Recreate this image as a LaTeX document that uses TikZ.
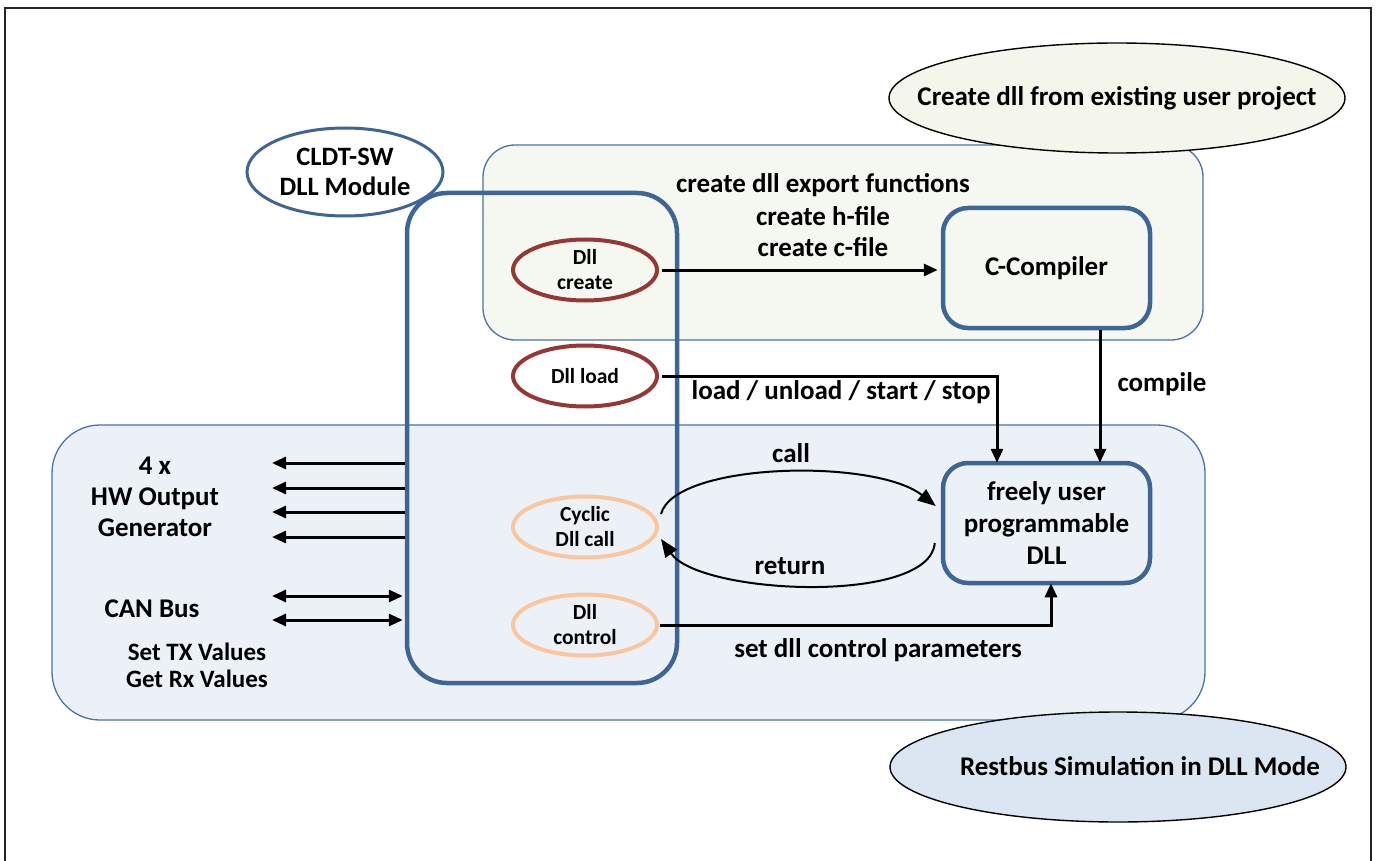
\documentclass[tikz,border=0pt]{standalone}
\usepackage{fontspec}
\setmainfont{Carlito}
\usetikzlibrary{arrows.meta,shapes.geometric,calc}
\definecolor{dblue}{HTML}{3E6596}
\definecolor{rblue}{HTML}{4A72A6}
\definecolor{gfill}{HTML}{F5F8F0}
\definecolor{bfill}{HTML}{ECF1F8}
\definecolor{efill}{HTML}{F4F6EC}
\definecolor{bell}{HTML}{DCE6F2}
\definecolor{dred}{HTML}{953735}
\definecolor{peach}{HTML}{FAC69E}
\begin{document}
\begin{tikzpicture}[x=1pt,y=-1pt,
  region/.style={draw=rblue, line width=1.3pt, rectangle, inner sep=0pt},
  lbl/.style={font=\fontsize{27}{31}\selectfont\bfseries, align=center, inner sep=0pt},
  smlbl/.style={font=\fontsize{25}{27}\selectfont\bfseries, align=center, inner sep=0pt},
  dllel/.style={ellipse, line width=4pt, fill=none, minimum width=144pt, minimum height=61pt, inner sep=0pt, align=center, font=\fontsize{21.5}{25}\selectfont\bfseries},
  boxnode/.style={draw=dblue, line width=4.5pt, rectangle, rounded corners=25pt, minimum width=207pt, minimum height=120pt, inner sep=0pt, align=center, font=\fontsize{27}{32}\selectfont\bfseries},
  arr/.style={line width=3pt, -{Triangle[length=14pt,width=12pt]}},
  darr/.style={line width=3pt, {Triangle[length=14pt,width=12pt]}-{Triangle[length=14pt,width=12pt]}},
  carr/.style={line width=2pt, -{Triangle[length=18pt,width=14pt]}},
  bigel/.style={ellipse, draw=black, line width=1.4pt, inner sep=0pt, minimum width=456pt, minimum height=110pt, font=\fontsize{27}{31}\selectfont\bfseries}
]
\useasboundingbox (0,0) rectangle (1376,861);
% outer frame
\draw[line width=1.8pt, draw=black!85] (5,861) -- (5,8) -- (1371,8) -- (1371,861);

% regions
\node[region, fill=gfill, minimum width=720pt, minimum height=195pt, rounded corners=32pt] (green) at (843,242.5) {};
\node[region, fill=bfill, minimum width=1153pt, minimum height=295pt, rounded corners=48pt] (blue) at (628.5,572.5) {};

% module
\node[draw=dblue, line width=4.5pt, rectangle, rounded corners=40pt, minimum width=270pt, minimum height=490pt, inner sep=0pt] (module) at (542,438) {};

% boxes
\node[boxnode, fill=gfill] (cc) at (1046.5,268) {C-Compiler};
\node[boxnode, fill=bfill] (free) at (1046.5,523) {freely user\\programmable\\DLL};

% dll ellipses
\node[dllel, draw=dred] (create) at (585,270) {Dll\\create};
\node[dllel, draw=dred] (load) at (585,376) {Dll load};
\node[dllel, draw=peach] (cyc) at (585,527) {Cyclic\\Dll call};
\node[dllel, draw=peach] (ctl) at (585,625) {Dll\\control};

% arrows
\draw[arr] ([xshift=3pt]create.east) -- ([xshift=-3pt]create.east -| cc.west);
\draw[arr] ([xshift=3pt]load.east) -| ([xshift=-49.5pt,yshift=-2pt]free.north);
\draw[arr] ([xshift=53.5pt]cc.south) -- ([xshift=53.5pt,yshift=-2pt]free.north);
\draw[arr] ([xshift=1pt]ctl.east) -| ([xshift=4.5pt,yshift=2pt]free.south);

\draw[carr] ([shift={(2,-13)}]cyc.east) .. controls (675,462) and (875,458) .. ([shift={(-5,-17)}]free.west);
\draw[carr] ([shift={(-6,20)}]free.west) .. controls (930,605) and (700,595) .. ([shift={(2,12)}]cyc.east);

% left arrows
\foreach \i/\yy in {1/463,2/488,3/512,4/537}{
  \coordinate (o\i) at (272,\yy);
  \draw[arr] (module.west |- o\i) -- (o\i);
}
\foreach \i/\yy in {1/596,2/620}{
  \coordinate (c\i) at (272,\yy);
  \draw[darr] (c\i) -- ([xshift=-2pt]module.west |- c\i);
}

% labels
\node[lbl] (t1) at (823,185) {create dll export functions};
\node[lbl] (t2) at (823,216) {create h-file};
\node[lbl] (t3) at (823,247) {create c-file};
\node[lbl] (t4) at (841,392) {load / unload / start / stop};
\node[lbl] (t5) at (1162,384) {compile};
\node[lbl] (t6) at (791,453) {call};
\node[lbl] (t7) at (790,566) {return};
\node[lbl] (t8) at (878,650) {set dll control parameters};
\node[lbl] (hw) at (155,497) {4 x\\HW Output\\Generator};
\node[lbl] (can) at (152,609) {CAN Bus};
\node[smlbl] (txrx) at (197,665) {Set TX Values\\Get Rx Values};

% ellipses on top
\node[ellipse, draw=dblue, line width=3pt, fill=white, minimum width=196pt, minimum height=88pt, inner sep=0pt, align=center, font=\fontsize{26.5}{30}\selectfont\bfseries] (cldt) at (345,172) {CLDT-SW\\DLL Module};
\node[bigel, fill=efill] (topel) at (1117,98) {\makebox[0pt]{Create dll from existing user project}};
\node[bigel, fill=bell] (botel) at (1118,767) {};
\node[lbl] (botlbl) at (1140,766) {Restbus Simulation in DLL Mode};
\end{tikzpicture}
\end{document}
